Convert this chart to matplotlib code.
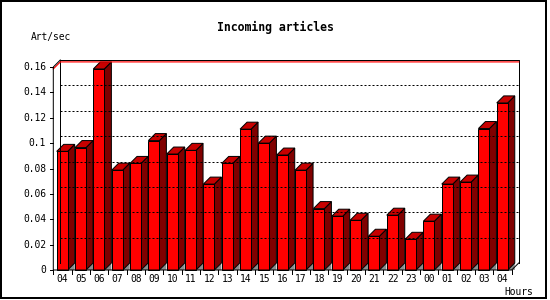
import matplotlib
matplotlib.use("Agg")
import matplotlib.pyplot as plt
from matplotlib.patches import Polygon, Rectangle

# Articles per second for each hour
hours = ["04", "05", "06", "07", "08", "09", "10", "11", "12", "13", "14", "15", "16",
         "17", "18", "19", "20", "21", "22", "23", "00", "01", "02", "03", "04"]
rate = [0.0935, 0.0965, 0.1585, 0.0787, 0.0840, 0.1020, 0.0914, 0.0943, 0.0677,
        0.0840, 0.1110, 0.1000, 0.0906, 0.0787, 0.0484, 0.0424, 0.0392, 0.0266,
        0.0432, 0.0242, 0.0385, 0.0677, 0.0693, 0.1115, 0.1317]
yticks = [0, 0.02, 0.04, 0.06, 0.08, 0.1, 0.12, 0.14, 0.16]
ytick_labels = ["0", "0.02", "0.04", "0.06", "0.08", "0.1", "0.12", "0.14", "0.16"]

W, H, DPI = 550, 300, 100
FONT = "DejaVu Sans Mono"
FRONT, TOP, SIDE, FLOOR = "#ff0000", "#c80000", "#800000", "#8c8c8c"
DEPTH = 7  # pixels of fake 3D depth (right and up)

fig = plt.figure(figsize=(W / DPI, H / DPI), dpi=DPI)
# front plane of the plot: x 53..512 px, y 67..270 px (from top)
ax = fig.add_axes([53.3 / W, 30 / H, 458.4 / W, 203 / H])
n = len(rate)
ax.set_xlim(0, n)
ax.set_ylim(0, 0.16)
ax.axis("off")

dx = DEPTH * n / (458.4)          # depth in x data units
dy = DEPTH * 0.16 / 203.0          # depth in y data units
lw = 0.72
ymax = 0.16

# back wall frame
ax.plot([dx, dx, n + dx, n + dx], [dy, ymax + dy, ymax + dy, dy], color="black",
        lw=lw, clip_on=False, solid_capstyle="projecting")
# dotted gridlines on back wall
for v in yticks[1:-1]:
    ax.plot([dx, n + dx], [v + dy, v + dy], color="black", lw=lw, ls=(0, (2, 2)),
            clip_on=False)
# red line at max value
m = max(rate)
ax.plot([0, dx, n + dx], [m, m + dy, m + dy], color="red", lw=lw * 1.2, clip_on=False)

# floor
ax.add_patch(Polygon([(0, 0), (dx, dy), (n + dx, dy), (n, 0)], closed=True,
                     facecolor="white", edgecolor="none", clip_on=False))

# bars
x_off, bw = 0.185, 0.6
for i, v in enumerate(rate):
    x0 = i + x_off
    x1 = x0 + bw
    ax.add_patch(Polygon([(x1, 0), (x1 + dx, dy), (x1 + dx, 0)], closed=True,
                         facecolor=FLOOR, edgecolor="none", clip_on=False))
    ax.add_patch(Polygon([(x1, 0), (x1, v), (x1 + dx, v + dy), (x1 + dx, dy)], closed=True,
                         facecolor=SIDE, edgecolor="black", lw=lw, clip_on=False))
    ax.add_patch(Polygon([(x0, v), (x0 + dx, v + dy), (x1 + dx, v + dy), (x1, v)],
                         closed=True, facecolor=TOP, edgecolor="black", lw=lw,
                         clip_on=False))
    ax.add_patch(Rectangle((x0, 0), bw, v, facecolor=FRONT, edgecolor="black", lw=lw,
                           clip_on=False))

# front axes
ax.plot([dx, 0, 0, n, n + dx], [ymax + dy, ymax, 0, 0, dy], color="black", lw=lw,
        clip_on=False)

# y ticks and labels
tick_x = 3 * n / 458.4
for v, lab in zip(yticks, ytick_labels):
    ax.plot([-tick_x, 0], [v, v], color="black", lw=lw, clip_on=False)
    ax.text(-2.4 * tick_x, v, lab, ha="right", va="center", fontsize=6.9,
            family=FONT, clip_on=False)

# x ticks and labels
tick_y = 4 * 0.16 / 203.0
for i in range(n + 1):
    ax.plot([i, i], [0, -tick_y], color="black", lw=lw, clip_on=False)
for i, lab in enumerate(hours):
    ax.text(i + 0.5, -9 * 0.16 / 203.0, lab, ha="center", va="center", fontsize=6.9,
            family=FONT, clip_on=False)

fig.text(275 / W, 1 - 27 / H, "Incoming articles", ha="center", va="center",
         fontsize=8.3, fontweight="bold", family=FONT)
fig.text(50.5 / W, 1 - 37 / H, "Art/sec", ha="center", va="center", fontsize=6.9,
         family=FONT)
fig.text(519 / W, 1 - 292 / H, "Hours", ha="center", va="center", fontsize=6.9,
         family=FONT)

# outer frame
fig.patches.append(Rectangle((0.5 / W, 2.5 / H), 545.5 / W, 297 / H, fill=False,
                             edgecolor="black", lw=1.44, transform=fig.transFigure))

fig.savefig("out.png", dpi=DPI)
